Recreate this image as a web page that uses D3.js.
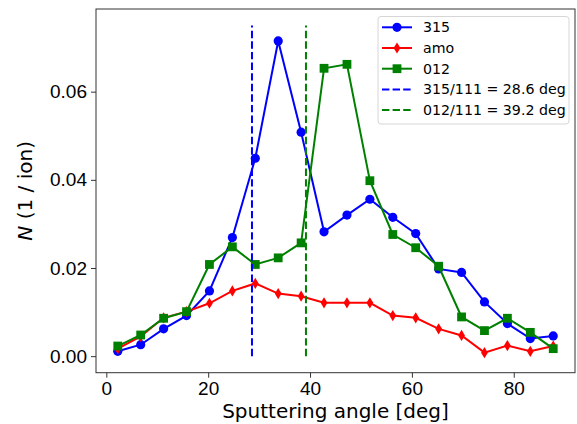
<!DOCTYPE html>
<html>
<head>
<meta charset="UTF-8">
<script src="https://cdn.jsdelivr.net/npm/d3@7"></script>
<style>
  body { margin: 0; background: #fff; }
  svg { font-family: "DejaVu Sans", sans-serif; }
</style>
</head>
<body>
<svg width="577" height="424"></svg>
<script>
// sputtering angle bins (deg)
const angles = [2.25, 6.75, 11.25, 15.75, 20.25, 24.75, 29.25, 33.75, 38.25, 42.75,
                47.25, 51.75, 56.25, 60.75, 65.25, 69.75, 74.25, 78.75, 83.25, 87.75];
const n315 = [0.0011, 0.0026, 0.0062, 0.0092, 0.0148, 0.0269, 0.0449, 0.0715, 0.0508, 0.0282,
              0.0320, 0.0356, 0.0315, 0.0278, 0.0198, 0.0190, 0.0123, 0.0074, 0.0040, 0.0046];
const nAmo = [0.0017, 0.0045, 0.0087, 0.0101, 0.0120, 0.0148, 0.0165, 0.0142, 0.0136, 0.0121,
              0.0121, 0.0121, 0.0092, 0.0087, 0.0062, 0.0047, 0.0008, 0.0024, 0.0011, 0.0023];
const n012 = [0.0023, 0.0048, 0.0086, 0.0101, 0.0208, 0.0248, 0.0208, 0.0223, 0.0257, 0.0653,
              0.0662, 0.0398, 0.0276, 0.0246, 0.0204, 0.0089, 0.0058, 0.0086, 0.0054, 0.0017];
const vlineX = [28.6, 39.2];
const vlineTop = 0.075;
const xTicks = [0, 20, 40, 60, 80];
const yTicks = [0, 0.02, 0.04, 0.06];

const series = [
  { name: "315", color: "#0000ff", marker: "circle", vals: n315 },
  { name: "amo", color: "#ff0000", marker: "diamond", vals: nAmo },
  { name: "012", color: "#008000", marker: "square", vals: n012 }
];
const vlines = [
  { label: "315/111 = 28.6 deg", color: "#0000ff", x: vlineX[0] },
  { label: "012/111 = 39.2 deg", color: "#008000", x: vlineX[1] }
];

const svg = d3.select("svg");
const pLeft = 96, pRight = 575, pTop = 9, pBottom = 372.7;

const x = d3.scaleLinear().domain([-2.025, 92.025]).range([pLeft, pRight]);
const y = d3.scaleLinear().domain([-0.00375, 0.07875]).range([pBottom, pTop]);

// axes
svg.append("g")
  .attr("transform", "translate(0," + pBottom + ")")
  .call(d3.axisBottom(x).tickValues(xTicks).tickFormat(d3.format("d")).tickSize(5).tickPadding(4))
  .call(g => g.select(".domain").remove())
  .selectAll("text").attr("font-size", 19).attr("fill", "#000");

svg.append("g")
  .attr("transform", "translate(" + pLeft + ",0)")
  .call(d3.axisLeft(y).tickValues(yTicks).tickFormat(d3.format(".2f")).tickSize(5).tickPadding(4))
  .call(g => g.select(".domain").remove())
  .selectAll("text").attr("font-size", 19).attr("fill", "#000");

svg.selectAll(".tick line").attr("stroke", "#333").attr("stroke-width", 1);

// markers
function drawMarker(sel, type, color) {
  if (type === "circle") {
    sel.append("circle").attr("r", 4.6).attr("fill", color);
  } else if (type === "square") {
    sel.append("rect").attr("x", -4.4).attr("y", -4.4).attr("width", 8.8).attr("height", 8.8).attr("fill", color);
  } else {
    sel.append("path").attr("d", "M0,-5.6L3.4,0L0,5.6L-3.4,0Z").attr("fill", color);
  }
}

const line = d3.line().x((d, i) => x(angles[i])).y(d => y(d));

series.forEach(s => {
  svg.append("path")
    .datum(s.vals)
    .attr("d", line)
    .attr("fill", "none")
    .attr("stroke", s.color)
    .attr("stroke-width", 2);
  s.vals.forEach((v, i) => {
    const g = svg.append("g").attr("transform", "translate(" + x(angles[i]) + "," + y(v) + ")");
    drawMarker(g, s.marker, s.color);
  });
});

vlines.forEach(v => {
  svg.append("line")
    .attr("x1", x(v.x)).attr("x2", x(v.x))
    .attr("y1", y(0)).attr("y2", y(vlineTop))
    .attr("stroke", v.color)
    .attr("stroke-width", 2)
    .attr("stroke-dasharray", "7.4,3.2");
});

// frame
svg.append("rect")
  .attr("x", pLeft).attr("y", pTop)
  .attr("width", pRight - pLeft).attr("height", pBottom - pTop)
  .attr("fill", "none").attr("stroke", "#333").attr("stroke-width", 1);

// legend
const lg = svg.append("g");
lg.append("rect")
  .attr("x", 378).attr("y", 16.5).attr("width", 191).attr("height", 107.5)
  .attr("rx", 3)
  .attr("fill", "#fff").attr("fill-opacity", 0.8)
  .attr("stroke", "#d6d6d6").attr("stroke-width", 1);

const entries = series.map(s => ({ label: s.name, color: s.color, marker: s.marker, dash: null }))
  .concat(vlines.map(v => ({ label: v.label, color: v.color, marker: null, dash: "7.4,3.2" })));

entries.forEach((e, i) => {
  const yy = 27.3 + i * 20.7;
  lg.append("line")
    .attr("x1", 382).attr("x2", 412)
    .attr("y1", yy).attr("y2", yy)
    .attr("stroke", e.color).attr("stroke-width", 2)
    .attr("stroke-dasharray", e.dash);
  if (e.marker) {
    drawMarker(lg.append("g").attr("transform", "translate(397," + yy + ")"), e.marker, e.color);
  }
  lg.append("text")
    .attr("x", 423).attr("y", yy)
    .attr("dy", "0.35em")
    .attr("font-size", 14.2)
    .attr("fill", "#000")
    .text(e.label);
});

// axis labels
svg.append("text")
  .attr("x", (pLeft + pRight) / 2).attr("y", 418)
  .attr("text-anchor", "middle")
  .attr("font-size", 20)
  .text("Sputtering angle [deg]");

const yl = svg.append("text")
  .attr("transform", "translate(32," + (pTop + pBottom) / 2 + ") rotate(-90)")
  .attr("text-anchor", "middle")
  .attr("font-size", 20);
yl.append("tspan").attr("font-style", "italic").text("N");
yl.append("tspan").text(" (1 / ion)");
</script>
</body>
</html>
